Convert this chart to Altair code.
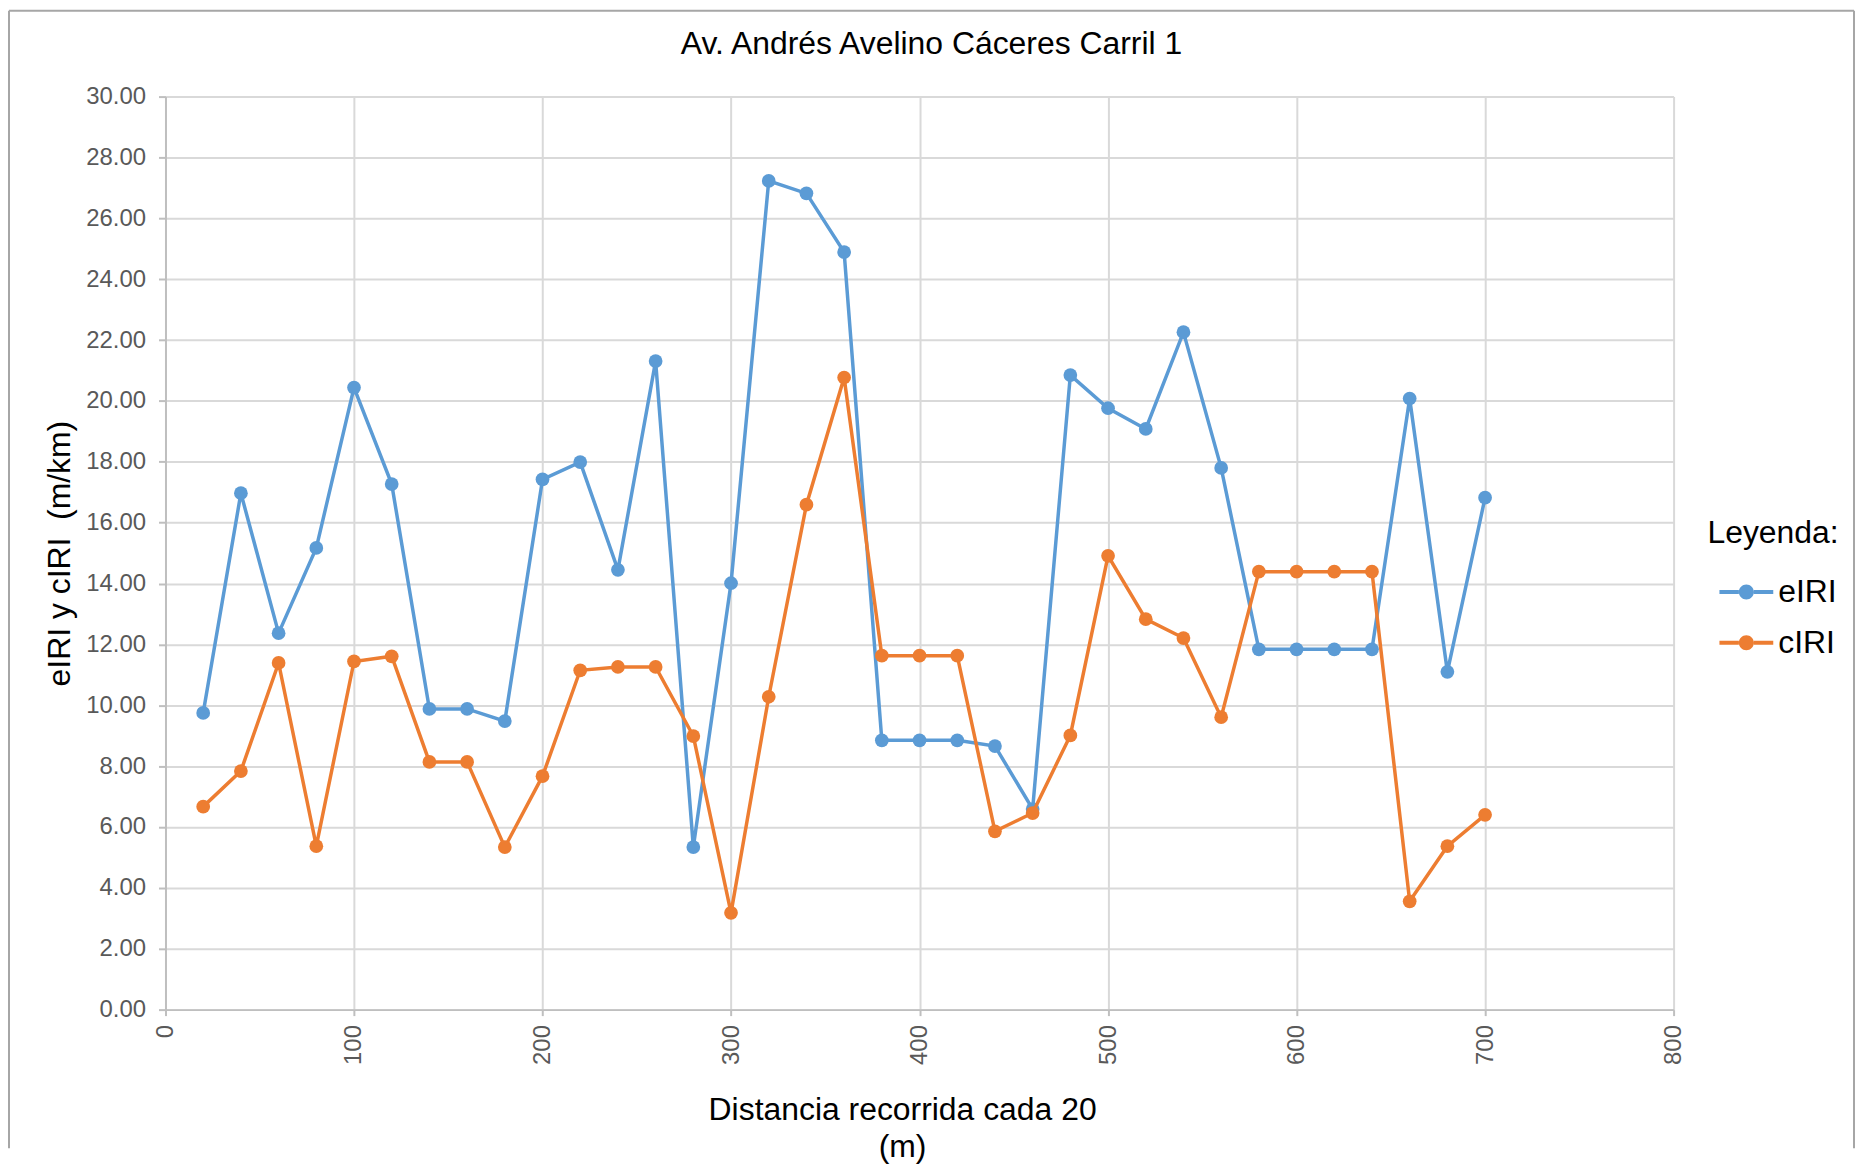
import altair as alt
import pandas as pd

# ---- data ----
distancia = [20, 40, 60, 80, 100, 120, 140, 160, 180, 200,
             220, 240, 260, 280, 300, 320, 340, 360, 380, 400,
             420, 440, 460, 480, 500, 520, 540, 560, 580, 600,
             620, 640, 660, 680, 700]
eiri = [9.75, 16.97, 12.37, 15.17, 20.44, 17.27, 9.88, 9.88, 9.48, 17.42,
        17.99, 14.45, 21.31, 5.34, 14.01, 27.23, 26.82, 24.89, 8.85, 8.85,
        8.85, 8.66, 6.59, 20.85, 19.76, 19.08, 22.26, 17.80, 11.84, 11.84,
        11.84, 11.84, 20.08, 11.10, 16.82]
ciri = [6.67, 7.84, 11.39, 5.37, 11.44, 11.61, 8.14, 8.14, 5.34, 7.67,
        11.15, 11.26, 11.26, 8.99, 3.18, 10.28, 16.59, 20.77, 11.63, 11.63,
        11.63, 5.86, 6.46, 9.01, 14.91, 12.83, 12.21, 9.61, 14.39, 14.39,
        14.39, 14.39, 3.56, 5.37, 6.40]
series = ["eIRI", "cIRI"]
colors = ["#5B9BD5", "#ED7D31"]
x_ticks = [0, 100, 200, 300, 400, 500, 600, 700, 800]
y_ticks = [0, 2, 4, 6, 8, 10, 12, 14, 16, 18, 20, 22, 24, 26, 28, 30]

df = pd.DataFrame({
    "Distancia": distancia + distancia,
    "valor": eiri + ciri,
    "serie": ["eIRI"] * len(eiri) + ["cIRI"] * len(ciri),
})

FONT = "Liberation Sans"
W, H = 1513, 916

# legend symbol: line with a circle marker (unit space [-1, 1])
r, h = 0.278, 0.074
sym = (f"M-1,{-h}L{-r},{-h}L{-r},{h}L-1,{h}Z"
       f"M{r},{-h}L1,{-h}L1,{h}L{r},{h}Z"
       f"M{-r},0A{r},{r} 0 1,0 {r},0A{r},{r} 0 1,0 {-r},0Z")

xenc = alt.X("Distancia:Q",
             scale=alt.Scale(domain=[0, 800], nice=False),
             axis=alt.Axis(values=x_ticks, labelAngle=270, labelFlush=False,
                           title=["Distancia recorrida cada 20", "(m)"],
                           titleX=739, titlePadding=30, titleLineHeight=37))
yenc = alt.Y("valor:Q",
             scale=alt.Scale(domain=[0, 30], nice=False),
             axis=alt.Axis(values=y_ticks, format=".2f",
                           title="eIRI y cIRI\u00a0\u00a0(m/km)", titlePadding=9))
cscale = alt.Scale(domain=series, range=colors)

legend = alt.Legend(title="Leyenda:", orient="none", legendX=1547, legendY=423,
                    symbolType=sym, symbolSize=2916, symbolStrokeWidth=0,
                    symbolOpacity=1, symbolOffset=12, labelOffset=5,
                    titlePadding=15, rowPadding=8, padding=0,
                    titleFontSize=32, titleFont=FONT, titleFontWeight="normal",
                    titleColor="#000000", labelFontSize=32, labelFont=FONT,
                    labelColor="#000000")
cenc = alt.Color("serie:N", scale=cscale, legend=legend)

base = alt.Chart(df)

def line_layer(name, col):
    return base.transform_filter(alt.datum.serie == name).mark_line(
        strokeWidth=3.5, color=col).encode(x=xenc, y=yenc)

def point_layer(name):
    return base.transform_filter(alt.datum.serie == name).mark_point(
        filled=True, size=190, opacity=1).encode(x=xenc, y=yenc, color=cenc)

# chart frame (decorative border)
frame_df = pd.DataFrame({"f": [0]})
frame_style = dict(color="#A6A6A6", strokeWidth=2)
left_b = alt.Chart(frame_df).mark_rule(**frame_style).encode(
    x=alt.value(-157), y=alt.value(-86), y2=alt.value(1055))
right_b = alt.Chart(frame_df).mark_rule(**frame_style).encode(
    x=alt.value(1694), y=alt.value(-86), y2=alt.value(1055))
top_b = alt.Chart(frame_df).mark_rule(**frame_style).encode(
    x=alt.value(-157), x2=alt.value(1694), y=alt.value(-86))

chart = alt.layer(
    left_b, right_b, top_b,
    line_layer("eIRI", colors[0]), point_layer("eIRI"),
    line_layer("cIRI", colors[1]), point_layer("cIRI"),
).properties(
    width=W, height=H, padding=0,
    title=alt.TitleParams("Av. Andrés Avelino Cáceres Carril 1",
                          fontSize=32, font=FONT, fontWeight="normal",
                          color="#000000", anchor="middle", frame="bounds",
                          baseline="alphabetic", offset=-76),
).configure_view(
    strokeWidth=0
).configure_axis(
    labelFont=FONT, labelFontSize=24, labelColor="#595959",
    titleFont=FONT, titleFontSize=32, titleFontWeight="normal", titleColor="#000000",
    gridColor="#D9D9D9", gridWidth=2,
    domainColor="#BFBFBF", domainWidth=2,
    tickColor="#BFBFBF", tickWidth=2,
).configure_axisY(
    labelPadding=13, tickSize=7
).configure_axisX(
    labelPadding=9, tickSize=6
)

chart.save("out.html", embed_options={"renderer": "svg", "actions": False})
